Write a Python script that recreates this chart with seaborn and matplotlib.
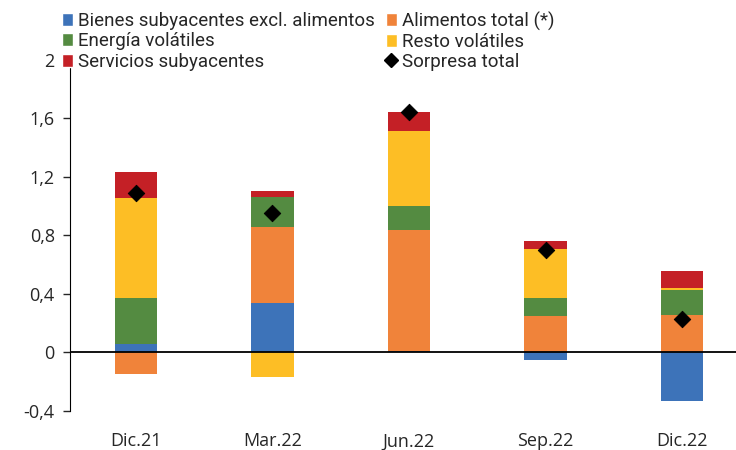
import numpy as np
import seaborn as sns
import matplotlib.pyplot as plt
from matplotlib.lines import Line2D
from matplotlib.patches import Patch

periods = ['Dic.21', 'Mar.22', 'Jun.22', 'Sep.22', 'Dic.22']
bienes = [0.06, 0.34, 0.01, -0.05, -0.335]
alimentos = [-0.15, 0.52, 0.83, 0.246, 0.253]
energia = [0.315, 0.205, 0.163, 0.124, 0.17]
resto = [0.683, -0.17, 0.512, 0.34, 0.017]
servicios = [0.177, 0.04, 0.13, 0.048, 0.113]
sorpresa = [1.09, 0.95, 1.645, 0.703, 0.225]

series = [
    ('Bienes subyacentes excl. alimentos', bienes, '#3d73b9'),
    ('Alimentos total (*)', alimentos, '#f0833a'),
    ('Energía volátiles', energia, '#548b41'),
    ('Resto volátiles', resto, '#fdbe25'),
    ('Servicios subyacentes', servicios, '#c42026'),
]

sns.set_style('white')
plt.rcParams['font.family'] = ['Open Sans', 'DejaVu Sans']

fig = plt.figure(figsize=(7.36, 4.5), dpi=100)
ax = fig.add_axes([0.095, 0.087, 0.905, 0.78])

x = np.arange(len(periods))
pos = np.zeros(len(periods))
neg = np.zeros(len(periods))
handles = []
for name, vals, col in series:
    vals = np.array(vals)
    bottom = np.where(vals >= 0, pos, neg)
    ax.bar(x, vals, bottom=bottom, width=0.31, color=col, linewidth=0)
    pos = pos + np.clip(vals, 0, None)
    neg = neg + np.clip(vals, None, 0)
    handles.append(Patch(facecolor=col, label=name))

sns.scatterplot(x=x, y=sorpresa, marker='D', color='black', s=70,
                edgecolor='black', zorder=5, ax=ax, legend=False)
handles.append(Line2D([], [], marker='D', color='black', linestyle='none',
                      markersize=7, label='Sorpresa total'))

ax.axhline(0, color='black', linewidth=1.3)
ax.set_xlim(-0.483, 4.395)
ax.set_ylim(-0.4, 2)
ax.set_yticks([-0.4, 0, 0.4, 0.8, 1.2, 1.6, 2])
ax.set_yticklabels(['-0,4', '0', '0,4', '0,8', '1,2', '1,6', '2'])
ax.set_xticks(x)
ax.set_xticklabels(periods)
for s in ['top', 'right', 'bottom']:
    ax.spines[s].set_visible(False)
ax.spines['left'].set_color('black')
ax.tick_params(axis='y', left=True, length=5, width=1, labelsize=13, pad=6)
ax.tick_params(axis='x', bottom=False, labelsize=13, pad=12)

order = [0, 2, 4, 1, 3, 5]
fig.legend([handles[i] for i in order], [handles[i].get_label() for i in order],
           loc='upper left', bbox_to_anchor=(0.066, 1.004), ncol=2, frameon=False,
           prop={'family': ['Roboto', 'Open Sans'], 'size': 13.5},
           handlelength=0.6, handleheight=0.7, handletextpad=0.25,
           labelspacing=0.12, columnspacing=0.6, borderaxespad=0.3)

fig.savefig('out.png', dpi=100)
